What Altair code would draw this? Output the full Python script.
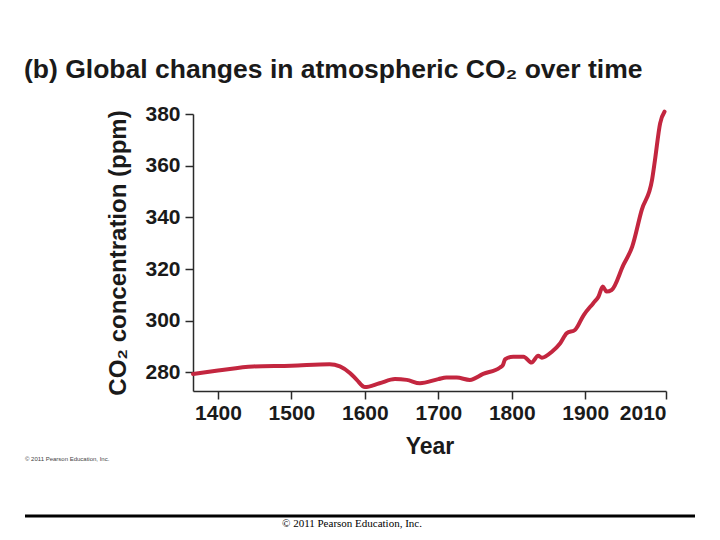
import altair as alt
import pandas as pd

years = [1366, 1400, 1448, 1500, 1552, 1566, 1580, 1589, 1600, 1620, 1641, 1657, 1675,
         1700, 1711, 1725, 1743, 1761, 1784, 1788, 1791, 1802, 1816, 1827, 1836, 1841,
         1855, 1866, 1875, 1886, 1898, 1911, 1918, 1924, 1929, 1936, 1952, 1964, 1977,
         1991, 1995, 2002, 2008]
ppm = [279.4, 280.7, 282.3, 282.6, 283.2, 282.3, 279.7, 277.1, 274.3, 275.8, 277.4, 277.1,
       275.8, 277.4, 278.0, 278.0, 277.1, 279.4, 281.9, 282.9, 285.1, 286.1, 286.1, 283.8,
       286.4, 285.7, 288.1, 291.3, 295.2, 296.4, 302.2, 306.8, 309.3, 313.2, 311.3, 311.9,
       321.6, 328.7, 342.9, 354.5, 362.2, 376.4, 380.9]
x_ticks = [1400, 1500, 1600, 1700, 1800, 1900, 2010]
y_ticks = [280, 300, 320, 340, 360, 380]
title_text = ["(b) Global changes in atmospheric CO\u2082 over time"]
small_note = ["\u00a9 2011 Pearson Education, Inc."]
bottom_note = ["\u00a9 2011 Pearson Education, Inc."]

df = pd.DataFrame({"year": years, "ppm": ppm})

FONT = "Liberation Sans"
AX = "#2a2a2a"
TXT = "#1a1a1a"

axis_style = dict(
    grid=False, tickSize=8, domainColor=AX, tickColor=AX, domainWidth=1.5, tickWidth=1.5,
    labelFont=FONT, labelFontSize=21, labelFontWeight="bold", labelColor=TXT,
    titleFont=FONT, titleFontWeight="bold", titleColor=TXT,
)

line = alt.Chart(df).mark_line(color="#C3263F", strokeWidth=4, interpolate="monotone",
                               strokeCap="round", strokeJoin="round").encode(
    x=alt.X("year:Q", scale=alt.Scale(domain=[1366, 2010], nice=False, zero=False),
            axis=alt.Axis(values=x_ticks, format="d", title="Year", titleFontSize=23,
                          labelPadding=3, titlePadding=12, **axis_style)),
    y=alt.Y("ppm:Q", scale=alt.Scale(domain=[272.8, 380], nice=False, zero=False),
            axis=alt.Axis(values=y_ticks, format="d", title="CO\u2082 concentration (ppm)",
                          titleFontSize=24, labelPadding=5, titlePadding=14, **axis_style)),
)

title = alt.Chart(pd.DataFrame({"t": title_text})).mark_text(
    align="left", baseline="alphabetic", font=FONT, fontSize=26.5, fontWeight="bold",
    color=TXT).encode(x=alt.value(-169), y=alt.value(-36), text="t:N")

note = alt.Chart(pd.DataFrame({"t": small_note})).mark_text(
    align="left", baseline="middle", font=FONT, fontSize=6, color="#444").encode(
    x=alt.value(-168), y=alt.value(345), text="t:N")

rule = alt.Chart(pd.DataFrame({"a": [0]})).mark_rule(color="black", strokeWidth=3).encode(
    x=alt.value(-168), x2=alt.value(502), y=alt.value(402))

bnote = alt.Chart(pd.DataFrame({"t": bottom_note})).mark_text(
    align="center", baseline="alphabetic", font="Liberation Serif", fontSize=11,
    color="black").encode(x=alt.value(159), y=alt.value(413), text="t:N")

chart = alt.layer(line, title, note, rule, bnote).properties(
    width=473, height=277,
    autosize=alt.AutoSizeParams(type="none"),
    padding={"left": 185, "top": 106, "right": 40, "bottom": 140},
    background="white",
).configure_view(strokeWidth=0)

chart.save("out.html", embed_options={"renderer": "svg", "actions": False})
